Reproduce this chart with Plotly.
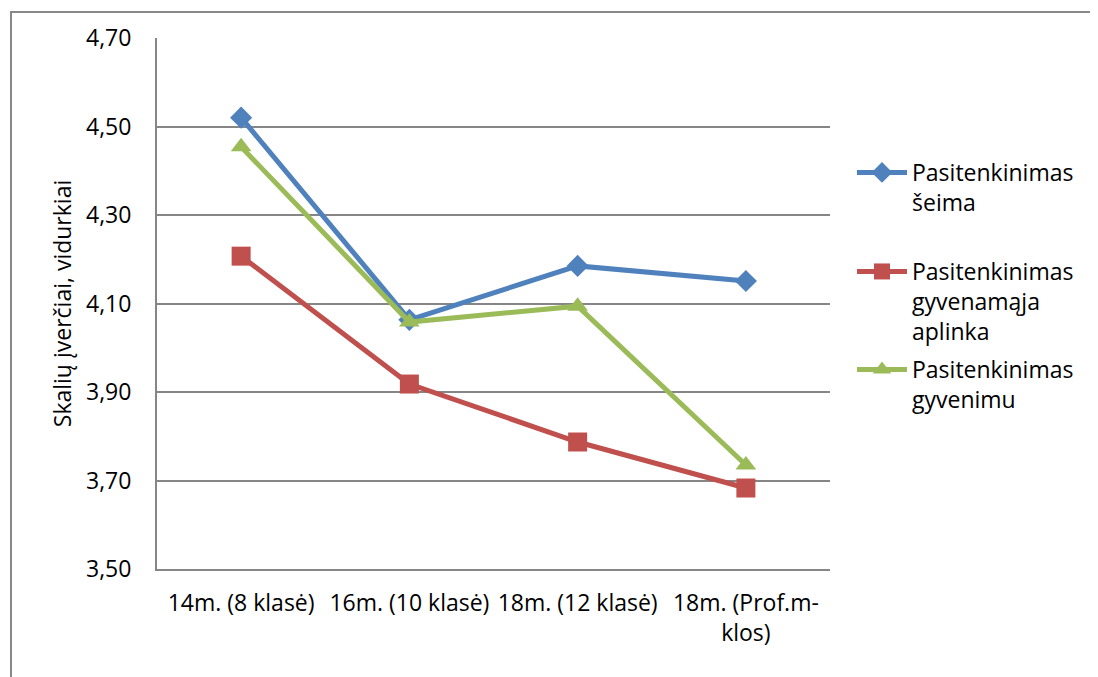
import plotly.graph_objects as go

categories = ["14m. (8 klasė)", "16m. (10 klasė)", "18m. (12 klasė)", "18m. (Prof.m-<br>klos)"]
seima = [4.52, 4.063, 4.185, 4.151]
aplinka = [4.207, 3.918, 3.787, 3.683]
gyvenimu = [4.454, 4.058, 4.094, 3.735]
series_names = ["Pasitenkinimas<br>šeima", "Pasitenkinimas<br>gyvenamąja<br>aplinka", "Pasitenkinimas<br>gyvenimu"]
colors = ["#4F81BD", "#C0504D", "#9BBB59"]
symbols = ["diamond", "square", "triangle-up"]
sizes = [17, 19, 18]
y_ticks = [3.5, 3.7, 3.9, 4.1, 4.3, 4.5, 4.7]

FONT = "Open Sans"
OFF = 8  # page body margin
W, H = 1098 - OFF, 677 - OFF
L, R, T, B = 157 - OFF, 830 - OFF, 38 - OFF, 569 - OFF


def px_x(px):
    return (px - OFF - L) / (R - L)


def px_y(py):
    return (B - (py - OFF)) / (B - T)


fig = go.Figure()
legend_ids = ["legend", "legend2", "legend3"]
for vals, name, c, s, sz, lg in zip([seima, aplinka, gyvenimu], series_names, colors, symbols, sizes, legend_ids):
    fig.add_trace(go.Scatter(
        x=list(range(len(categories))), y=vals, name=name, mode="lines+markers",
        line=dict(color=c, width=5), marker=dict(symbol=s, size=sz, color=c),
        legend=lg, showlegend=True,
    ))

legend_common = dict(font=dict(family=FONT, size=23, color="#000"), bgcolor="rgba(0,0,0,0)",
                     xanchor="left", yanchor="top", valign="top", itemwidth=50, visible=True)
fig.update_layout(
    width=W, height=H,
    margin=dict(l=L, r=W - R, t=T, b=H - B),
    paper_bgcolor="white", plot_bgcolor="white",
    separators=",.",
    showlegend=True,
    font=dict(family=FONT, size=23, color="#000"),
    legend=dict(x=px_x(852), y=px_y(151), **legend_common),
    legend2=dict(x=px_x(852), y=px_y(250), **legend_common),
    legend3=dict(x=px_x(852), y=px_y(348), **legend_common),
    xaxis=dict(
        range=[-0.5, len(categories) - 0.5],
        tickvals=list(range(len(categories))), ticktext=categories,
        showgrid=False, showline=True, linecolor="#868686", linewidth=2,
        ticks="", ticklabelstandoff=12, tickfont=dict(family=FONT, size=23, color="#000"),
        zeroline=False,
    ),
    yaxis=dict(
        range=[3.5, 4.7], tickvals=y_ticks, tickformat=".2f",
        showgrid=True, gridcolor="#868686", gridwidth=2,
        showline=True, linecolor="#868686", linewidth=2,
        ticks="", ticklabelstandoff=19, tickfont=dict(family=FONT, size=23, color="#000"),
        zeroline=False,
        title=dict(text="Skalių įverčiai, vidurkiai", font=dict(family=FONT, size=23, color="#000"), standoff=8),
    ),
    shapes=[dict(type="rect", xref="paper", yref="paper",
                 x0=px_x(11), x1=px_x(1120), y0=px_y(700), y1=px_y(12),
                 line=dict(color="#888888", width=2), fillcolor="rgba(0,0,0,0)", layer="below")],
)
fig.write_html("out.html")
